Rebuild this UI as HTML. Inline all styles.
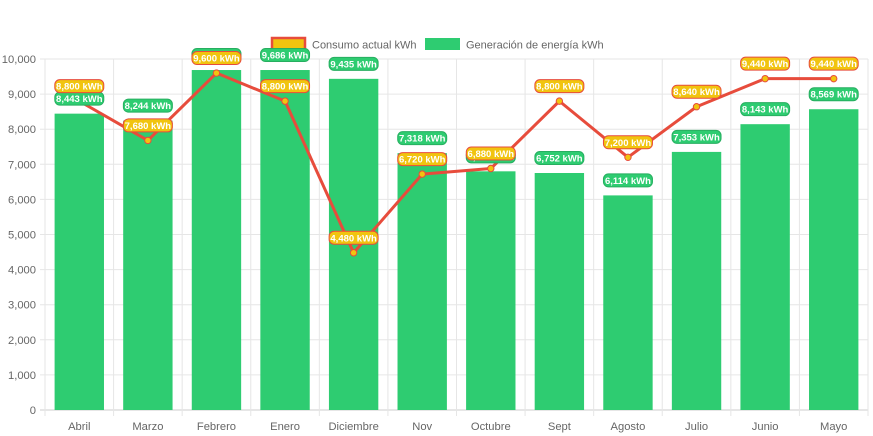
<!DOCTYPE html>
<html><head><meta charset="utf-8"><style>
body{margin:0;background:#fff;font-family:"Liberation Sans",sans-serif}
svg{display:block}
</style></head><body>
<svg id="chart" width="873" height="436" xmlns="http://www.w3.org/2000/svg" font-family="Liberation Sans, sans-serif">
<g>
<g>
<rect x="272" y="38" width="33" height="12" fill="#f1c40f" stroke="#e74c3c" stroke-width="2.5"/>
<text x="312" y="48.5" font-size="11" fill="#666">Consumo actual kWh</text></g>
<g>
<rect x="425" y="38" width="35" height="12" fill="#2ecc71"/>
<text x="466" y="48.5" font-size="11" fill="#666">Generación de energía kWh</text></g>
</g>
<g id="grid"></g>
<g id="bars"></g>
<g id="line"></g>
<g id="labels"></g>
</svg>
<script>
const categories=["Abril","Marzo","Febrero","Enero","Diciembre","Nov","Octubre","Sept","Agosto","Julio","Junio","Mayo"];
const generacion=[8443,8244,9686,9686,9435,7318,6800,6752,6114,7353,8143,8569];
const consumo=[8800,7680,9600,8800,4480,6720,6880,8800,7200,8640,9440,9440];
const yTicks=[0,1000,2000,3000,4000,5000,6000,7000,8000,9000,10000];
const L=45,R=868,T=59,B=410,MAX=10000;
const NS="http://www.w3.org/2000/svg";
const cw=(R-L)/categories.length;
const xc=i=>L+cw*(i+0.5);
const y=v=>B-(v/MAX)*(B-T);
function mk(tag,attrs,parent,txt){const e=document.createElementNS(NS,tag);for(const k in attrs)e.setAttribute(k,attrs[k]);if(txt!==undefined)e.textContent=txt;parent.appendChild(e);return e;}
const grid=document.getElementById('grid'),bars=document.getElementById('bars'),line=document.getElementById('line'),labels=document.getElementById('labels');
yTicks.forEach(t=>{
 const g=mk('line',{x1:L-5,x2:R,y1:y(t),y2:y(t),stroke:t===0?'#ccc':'#e6e6e6'},grid);
 
 
 const tx=mk('text',{x:L-9,y:y(t)+4,'text-anchor':'end','font-size':'11.2',fill:'#666'},grid,t.toLocaleString('en-US'));
 
 
});
for(let i=0;i<=categories.length;i++){
 const x=L+cw*i;
 const g=mk('line',{x1:x,x2:x,y1:T,y2:B+6,stroke:'#e6e6e6'},grid);
 
 
}
categories.forEach((c,i)=>{
 const tx=mk('text',{x:xc(i),y:B+20,'text-anchor':'middle','font-size':'11.2',fill:'#666'},grid,c);
 
 
});
const bw=cw*0.72;
generacion.forEach((v,i)=>{
 const r=mk('rect',{x:xc(i)-bw/2,y:y(v),width:bw,height:B-y(v),fill:'#2ecc71'},bars);
 
 
});
const pts=consumo.map((v,i)=>xc(i)+','+y(v)).join(' ');
const pl=mk('polyline',{points:pts,fill:'none',stroke:'#e74c3c','stroke-width':3,'stroke-linejoin':'round'},line);


consumo.forEach((v,i)=>{
 const c=mk('circle',{cx:xc(i),cy:y(v),r:3.2,fill:'#f1c40f',stroke:'#e74c3c','stroke-width':1},line);
 
 
});
function label(v,i,fill,stroke){
 const cx=xc(i),cy=y(v)-15,w=49,h=13;
 const g=mk('g',{},labels);
 
 
 mk('rect',{x:cx-w/2,y:cy-h/2,width:w,height:h,rx:5,fill:fill,stroke:stroke,'stroke-width':1},g);
 mk('text',{x:cx,y:cy+3.5,'text-anchor':'middle','font-size':'9.5','font-weight':'bold',fill:'#fff'},g,v.toLocaleString('en-US')+' kWh');
}
generacion.forEach((v,i)=>label(v,i,'#2ecc71','#27ae60'));
consumo.forEach((v,i)=>label(v,i,'#f1c40f','#e74c3c'));
</script>
</body></html>
